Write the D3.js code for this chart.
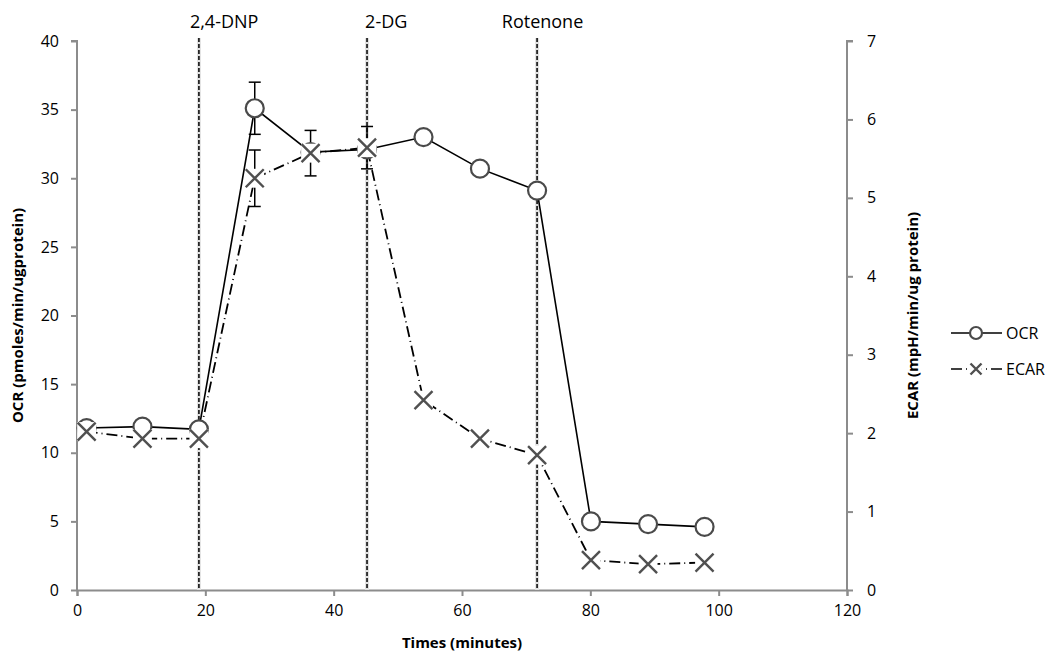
<!DOCTYPE html>
<html>
<head>
<meta charset="utf-8">
<script src="https://cdn.jsdelivr.net/npm/d3@7"></script>
<style>
  body { margin: 0; background: #fff; }
  text { font-family: "Open Sans", "Liberation Sans", sans-serif; }
</style>
</head>
<body>
<div id="chart"></div>
<script>
var width = 1058, height = 659
var margin = {top: 41, right: 211, bottom: 69, left: 77}

// data
var times = [1.5, 10.2, 19, 27.7, 36.4, 45.2, 54, 62.8, 71.7, 80.1, 89, 97.8]
var ocr = [11.8, 11.9, 11.7, 35.1, 31.9, 32.1, 33.0, 30.7, 29.1, 5.0, 4.8, 4.6]
var ocrErr = [0, 0, 0, 1.9, 0, 0, 0, 0, 0, 0, 0, 0]
var ecar = [2.02, 1.93, 1.93, 5.25, 5.57, 5.64, 2.42, 1.93, 1.72, 0.38, 0.33, 0.35]
var ecarErr = [0.03, 0, 0, 0.36, 0.29, 0.27, 0, 0, 0, 0, 0, 0]
var injections = ["2,4-DNP", "2-DG", "Rotenone"]
var injectionTimes = [19, 45.2, 71.7]
var injectionLabelX = [17.6, 44.9, 66.2]
var xTicks = [0, 20, 40, 60, 80, 100, 120]
var yLeftTicks = [0, 5, 10, 15, 20, 25, 30, 35, 40]
var yRightTicks = [0, 1, 2, 3, 4, 5, 6, 7]

var svg = d3.select("#chart")
  .append("svg")
    .attr("width", width)
    .attr("height", height)

var x = d3.scaleLinear().domain([0, 120]).range([margin.left, width - margin.right])
var yL = d3.scaleLinear().domain([0, 40]).range([height - margin.bottom, margin.top])
var yR = d3.scaleLinear().domain([0, 7]).range([height - margin.bottom, margin.top])

var axisColor = "#8c8c8c"

var xAxis = svg.append("g")
  .attr("transform", `translate(0,${height - margin.bottom})`)
  .call(d3.axisBottom(x).tickValues(xTicks).tickSize(6).tickPadding(9))
var yAxisL = svg.append("g")
  .attr("transform", `translate(${margin.left},0)`)
  .call(d3.axisLeft(yL).tickValues(yLeftTicks).tickSize(6).tickPadding(12))
var yAxisR = svg.append("g")
  .attr("transform", `translate(${width - margin.right},0)`)
  .call(d3.axisRight(yR).tickValues(yRightTicks).tickFormat(d3.format("d")).tickSize(6).tickPadding(14))

;[xAxis, yAxisL, yAxisR].forEach(function(a) {
  a.selectAll("path").attr("stroke", axisColor).attr("stroke-width", 2)
  a.selectAll("line").attr("stroke", axisColor).attr("stroke-width", 2)
  a.selectAll("text").style("font-size", "16px").attr("fill", "#000")
})
yAxisL.select(".domain").attr("d", `M-6,${yL(40)}H0V${yL(0)}`)
yAxisR.select(".domain").attr("d", `M6,${yR(7)}H0V${yR(0)}`)

// injection lines
injectionTimes.forEach(function(t, i) {
  svg.append("line")
    .attr("x1", x(t)).attr("x2", x(t))
    .attr("y1", 38).attr("y2", yL(0))
    .attr("stroke", "#e2e2e2").attr("stroke-width", 4)
  svg.append("line")
    .attr("x1", x(t)).attr("x2", x(t))
    .attr("y1", 38).attr("y2", yL(0))
    .attr("stroke", "#000").attr("stroke-width", 1.5)
    .attr("stroke-dasharray", "4,2")
  svg.append("text")
    .attr("x", x(injectionLabelX[i]))
    .attr("y", 28)
    .style("font-size", "18px")
    .text(injections[i])
})

var ocrData = times.map(function(t, i) { return {t: t, v: ocr[i], e: ocrErr[i]} })
var ecarData = times.map(function(t, i) { return {t: t, v: ecar[i], e: ecarErr[i]} })

// error bars
function errorBars(data, y) {
  var g = svg.append("g").attr("stroke", "#000").attr("stroke-width", 1.5)
  data.filter(function(d) { return d.e > 0 }).forEach(function(d) {
    g.append("line").attr("x1", x(d.t)).attr("x2", x(d.t))
      .attr("y1", y(d.v - d.e)).attr("y2", y(d.v + d.e))
    ;[d.v - d.e, d.v + d.e].forEach(function(v) {
      g.append("line").attr("x1", x(d.t) - 6).attr("x2", x(d.t) + 6)
        .attr("y1", y(v)).attr("y2", y(v))
    })
  })
}
errorBars(ocrData, yL)
errorBars(ecarData, yR)

var ocrLine = d3.line().x(d => x(d.t)).y(d => yL(d.v))
var ecarLine = d3.line().x(d => x(d.t)).y(d => yR(d.v))

svg.append("path").datum(ecarData)
  .attr("d", ecarLine).attr("fill", "none")
  .attr("stroke", "#000").attr("stroke-width", 1.8)
  .attr("stroke-dasharray", "11,4,1,4")
svg.append("path").datum(ocrData)
  .attr("d", ocrLine).attr("fill", "none")
  .attr("stroke", "#000").attr("stroke-width", 1.6)

function circleMark(g, cx, cy, r) {
  g.append("circle").attr("cx", cx).attr("cy", cy).attr("r", r)
    .attr("fill", "#fff").attr("stroke", "#4a4a4a").attr("stroke-width", 2.2)
}
function crossMark(g, cx, cy, s, backing) {
  if (backing) {
    g.append("rect").attr("x", cx - s * 1.05).attr("y", cy - s * 1.05)
      .attr("width", s * 2.1).attr("height", s * 2.1).attr("fill", "#fff")
  }
  g.append("path")
    .attr("d", `M${cx - s},${cy - s}L${cx + s},${cy + s}M${cx - s},${cy + s}L${cx + s},${cy - s}`)
    .attr("stroke", "#505050").attr("stroke-width", 2.4).attr("fill", "none")
}

var marks = svg.append("g")
ocrData.forEach(function(d) { circleMark(marks, x(d.t), yL(d.v), 9) })
ecarData.forEach(function(d) { crossMark(marks, x(d.t), yR(d.v), 9, true) })

// axis titles
svg.append("text")
  .attr("x", (x(0) + x(120)) / 2).attr("y", 648)
  .attr("text-anchor", "middle")
  .style("font-size", "15px").style("font-weight", "bold")
  .text("Times (minutes)")
svg.append("text")
  .attr("transform", `translate(23,${(yL(0) + yL(40)) / 2}) rotate(-90)`)
  .attr("text-anchor", "middle")
  .style("font-size", "15px").style("font-weight", "bold")
  .text("OCR (pmoles/min/ugprotein)")
svg.append("text")
  .attr("transform", `translate(918,${(yL(0) + yL(40)) / 2}) rotate(-90)`)
  .attr("text-anchor", "middle")
  .style("font-size", "15px").style("font-weight", "bold")
  .text("ECAR (mpH/min/ug protein)")

// legend
var legend = svg.append("g")
legend.append("line").attr("x1", 951).attr("x2", 1002).attr("y1", 333).attr("y2", 333)
  .attr("stroke", "#000").attr("stroke-width", 1.6)
circleMark(legend, 976, 333, 6)
legend.append("text").attr("x", 1006).attr("y", 339).style("font-size", "16px").text("OCR")
legend.append("line").attr("x1", 951).attr("x2", 1002).attr("y1", 369).attr("y2", 369)
  .attr("stroke", "#000").attr("stroke-width", 1.6).attr("stroke-dasharray", "11,4,1,4")
crossMark(legend, 976, 369, 5.5, true)
legend.append("text").attr("x", 1006).attr("y", 375).style("font-size", "16px").text("ECAR")
</script>
</body>
</html>
